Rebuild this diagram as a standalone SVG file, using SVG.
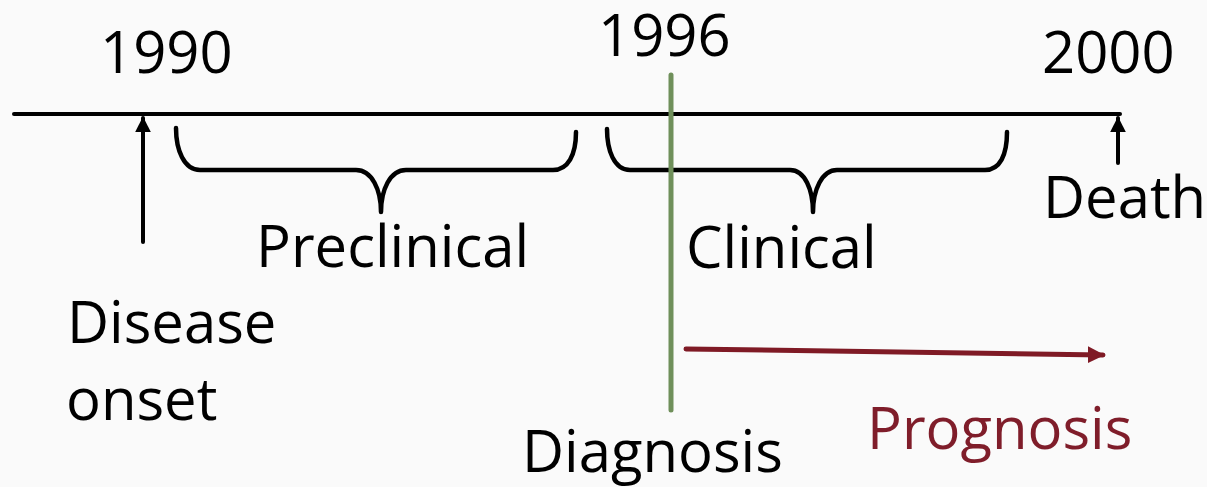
<svg xmlns="http://www.w3.org/2000/svg" width="1207" height="487" viewBox="0 0 1207 487">
<defs>
<style>
.t{font-family:"Open Sans","Noto Sans","Liberation Sans",sans-serif;font-size:58px;fill:#000}
.p{fill:#7f1d2a}
.ln{stroke:#000;stroke-width:4;fill:none;stroke-linecap:round}
.br{stroke:#000;stroke-width:4.5;fill:none;stroke-linecap:round;stroke-linejoin:round}
</style>
<marker id="ah" viewBox="0 0 10 10" refX="9" refY="5" markerWidth="4" markerHeight="4" markerUnits="strokeWidth" orient="auto"><path d="M0,0L10,5L0,10Z" fill="#000"/></marker>
<marker id="ahr" viewBox="0 0 10 10" refX="9" refY="5" markerWidth="3.4" markerHeight="3.6" markerUnits="strokeWidth" orient="auto"><path d="M0,0L10,5L0,10Z" fill="#7f1a25"/></marker>
</defs>
<rect width="1207" height="487" fill="#fafafa"/>
<g id="timeline">
<line class="ln" x1="14" y1="114" x2="1120" y2="114" stroke-linecap="butt"/>
<text class="t" x="100" y="73">1990</text>
<text class="t" x="598" y="56">1996</text>
<text class="t" x="1042" y="73">2000</text>
</g>
<g id="onset">
<text class="t" x="67" y="343">Disease</text>
<text class="t" x="66" y="420">onset</text>
</g>
<g id="preclinical">
<path class="br" d="M176,128 C176,150 184,170 200,170 L356,170 C372,170 381,190 381,212 C381,190 390,170 406,170 L553,170 C568,170 576,155 576,132"/>
<text class="t" x="256" y="267">Preclinical</text>
</g>
<g id="clinical">
<path class="br" d="M607,129 C607,150 614,170 630,170 L790,170 C805,170 813,190 813,212 C813,190 822,170 837,170 L985,170 C1000,170 1007,155 1007,132"/>
<text class="t" x="686" y="268">Clinical</text>
</g>
<g id="death">
<text class="t" x="1043" y="218">Death</text>
</g>
<g id="diagnosis">
<line x1="671" y1="75" x2="671" y2="410" stroke="#6f8f5a" stroke-width="5" stroke-linecap="round"/>
<text class="t" x="522" y="472">Diagnosis</text>
</g>
<g id="prognosis">
<text class="t p" x="867" y="449">Prognosis</text>
</g>
<g id="connectors">
<line class="ln" x1="143" y1="242" x2="143" y2="118" marker-end="url(#ah)"/>
<line class="ln" x1="1118" y1="163" x2="1118" y2="118" marker-end="url(#ah)"/>
<line x1="686" y1="349" x2="1103" y2="355" stroke="#7f1a25" stroke-width="5" stroke-linecap="round" marker-end="url(#ahr)"/>
</g>
</svg>
